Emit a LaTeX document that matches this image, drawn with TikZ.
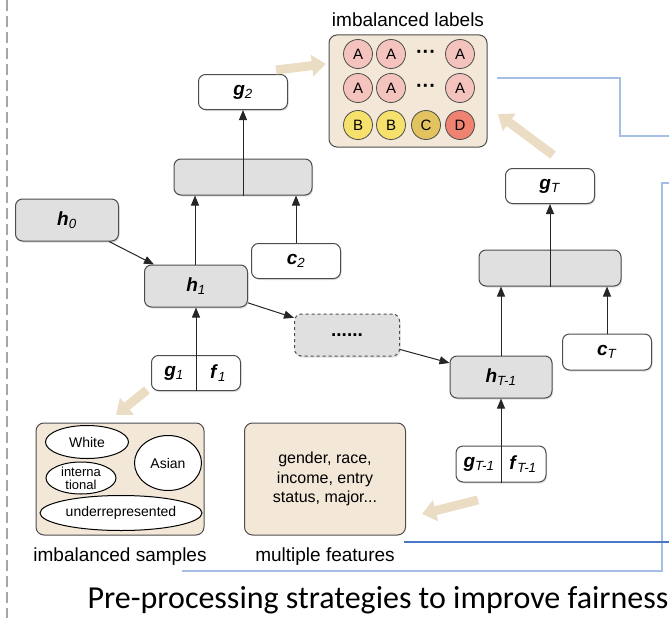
\documentclass[tikz,border=0pt]{standalone}
\usepackage{fontspec}
\setmainfont{Liberation Sans}
\newfontfamily\slidefont{Carlito}
\usetikzlibrary{arrows.meta,shadows,shapes.geometric,positioning}

\definecolor{boxgray}{HTML}{E0E0E0}
\definecolor{edgegray}{HTML}{4D4D4D}
\definecolor{sand}{HTML}{F3E7D7}
\definecolor{sandarrow}{HTML}{EBDCC4}
\definecolor{pinkA}{HTML}{F4C3BD}
\definecolor{yellowB}{HTML}{F6E16C}
\definecolor{goldC}{HTML}{E3C360}
\definecolor{redD}{HTML}{EF8270}
\definecolor{paleblue}{HTML}{A6BDE5}
\definecolor{deepblue}{HTML}{4A78C8}

\newcommand{\nvar}[2]{\textbf{\textit{#1}}\textsubscript{\textit{#2}}}

\begin{document}
\begin{tikzpicture}[x=1pt, y=-1pt,
        state/.style={rectangle, rounded corners=7pt, draw=edgegray, line width=1pt, fill=boxgray, minimum width=103pt, minimum height=42pt, inner sep=0pt, font=\fontsize{19}{22}\selectfont, drop shadow={shadow xshift=1pt, shadow yshift=-1.5pt, opacity=0.25}},
        plain/.style={state, fill=white, minimum width=89pt, minimum height=35pt},
        mixbox/.style={state, minimum width=140pt, minimum height=36pt},
        sandbox/.style={rectangle, rounded corners=8pt, draw=edgegray, line width=1pt, fill=sand, minimum height=112pt, inner sep=0pt},
        token/.style={circle, draw=edgegray, line width=0.8pt, minimum size=29pt, inner sep=0pt, font=\fontsize{15}{15}\selectfont},
        blob/.style={ellipse, draw=black, line width=1pt, fill=white, inner sep=0pt, font=\fontsize{14}{14}\selectfont},
        caption/.style={font=\fontsize{19}{22}\selectfont, inner sep=0pt},
        arr/.style={-{Triangle[length=10pt, width=8pt]}, draw=black!85, line width=1pt},
        fat/.style={-{Triangle[length=14pt, width=21pt]}, draw=sandarrow, line width=9pt}]

        \useasboundingbox (0,0) rectangle (669,618);

        \draw[gray!70, line width=2pt, dash pattern=on 11pt off 5pt] (7,0) -- (7,618);

        \draw[paleblue, line width=2pt] (497,78) -- (620,78) -- (620,136) -- (669,136);
        \draw[paleblue, line width=2pt] (669,183) -- (662,183) -- (662,571) -- (182,571);
        \draw[deepblue, line width=2.5pt] (404,542) -- (669,542);

        \node[sandbox, minimum width=158pt] (lab) at (408,91) {};
        \node[caption, above=8pt of lab] (labtitle) {imbalanced labels};
        \foreach \row/\y in {1/54, 2/88} {
                \node[token, fill=pinkA] (a\row1) at (358,\y) {A};
                \node[token, fill=pinkA] (a\row2) at (391,\y) {A};
                \node[font=\fontsize{20}{20}\selectfont\bfseries, inner sep=0pt] (more\row) at (426,\y) {···};
                \node[token, fill=pinkA] (a\row4) at (460,\y) {A};
        }
        \node[token, fill=yellowB] (b1) at (358,125) {B};
        \node[token, fill=yellowB] (b2) at (391,125) {B};
        \node[token, fill=goldC] (c1) at (426,125) {C};
        \node[token, fill=redD] (d1) at (460,125) {D};

        \node[plain] (g2) at (243,92) {\nvar{g}{2}};
        \node[mixbox, minimum width=138pt] (mix1) at (243,177) {};
        \node[state] (h0) at (67,220) {\nvar{h}{0}};
        \node[state] (h1) at (196,286) {\nvar{h}{1}};
        \node[plain] (c2) at (296,261) {\nvar{c}{2}};
        \node[plain] (gf1) at (196,373) {};
        \node[font=\fontsize{19}{22}\selectfont] (g1) at (174,373) {\nvar{g}{1}};
        \node[font=\fontsize{19}{22}\selectfont] (f1) at (218,373) {\nvar{f}{1}};
        \node[state, dashed, minimum width=105pt] (skip) at (347,335) {\textbf{......}};

        \node[state, minimum width=102pt] (hT1) at (501,377) {\nvar{h}{T-1}};
        \node[plain, minimum width=90pt, minimum height=36pt] (gfT) at (501,464) {};
        \node[font=\fontsize{19}{22}\selectfont] (gT1) at (479,464) {\nvar{g}{T-1}};
        \node[font=\fontsize{19}{22}\selectfont] (fT1) at (523,464) {\nvar{f}{T-1}};
        \node[mixbox, minimum width=142pt] (mixT) at (550,268) {};
        \node[plain] (gT) at (550,186) {\nvar{g}{T}};
        \node[plain, minimum height=36pt] (cT) at (607,352) {\nvar{c}{T}};

        \draw[arr] (h0) -- (h1);
        \draw[arr] (h1) -- (skip);
        \draw[arr] (skip) -- (hT1);

        \draw[arr] (gf1.south) -- (h1.south);
        \draw[arr] (h1.north -| 195,0) -- (mix1.south -| 195,0);
        \draw[arr] (c2) -- (c2 |- mix1.south);
        \draw[arr] (mix1.south) -- (g2);

        \draw[arr] (gfT.south) -- (hT1.south);
        \draw[arr] (hT1) -- (hT1 |- mixT.south);
        \draw[arr] (cT) -- (cT |- mixT.south);
        \draw[arr] (mixT.south) -- (gT);

        \node[sandbox, minimum width=168pt] (smp) at (120,479) {};
        \node[blob, minimum width=83pt, minimum height=33pt] (white) at (87,442) {White};
        \node[blob, minimum width=70pt, minimum height=32pt, align=center, font=\fontsize{13}{13}\selectfont] (intl) at (81,478) {interna\\tional};
        \node[blob, minimum width=67pt, minimum height=55pt] (asian) at (168,463) {Asian};
        \node[blob, minimum width=162pt, minimum height=35pt] (under) at (121,513) {underrepresented};
        \node[caption, below=12pt of smp] (smptitle) {imbalanced samples};

        \node[sandbox, minimum width=161pt, align=center, font=\fontsize{16}{19.5}\selectfont] (feat) at (325,479) {gender, race,\\income, entry\\status, major...};
        \node[caption, below=12pt of feat] (feattitle) {multiple features};

        \coordinate (labin) at (326,64);
        \coordinate (labfrom) at (276,70);
        \coordinate (gTout) at (553,155);
        \coordinate (labin2) at (498,114);
        \coordinate (smpfrom) at (147,390);
        \coordinate (smpin) at (116,415);
        \coordinate (featfrom) at (478,500);
        \coordinate (featin) at (422,514);
        \draw[fat] (labfrom) -- (labin);
        \draw[fat] (gTout) -- (labin2);
        \draw[fat] (smpfrom) -- (smpin);
        \draw[fat] (featfrom) -- (featin);

        \node[font=\slidefont\fontsize{32}{36}\selectfont, inner sep=0pt] (slidetitle) at (378,600) {Pre-processing strategies to improve fairness};
\end{tikzpicture}
\end{document}
